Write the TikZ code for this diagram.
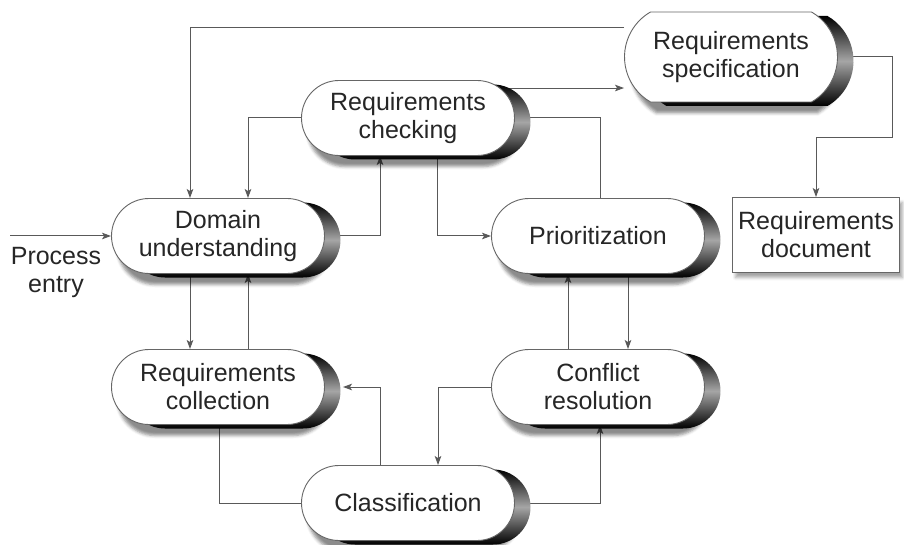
\documentclass[tikz,border=0pt]{standalone}
\usepackage{fontspec}
\setmainfont{Liberation Sans}
\usetikzlibrary{shapes.misc,arrows.meta,shadows.blur,backgrounds}
\begin{document}
\begin{tikzpicture}[x=1pt,y=-1pt,
  lbl/.style={font=\fontsize{25}{28}\selectfont, text=black!85, align=center},
  activity/.style={lbl, rounded rectangle, draw=black!60, line width=0.9pt,
    fill=white, minimum width=213pt, minimum height=75pt, inner sep=0pt,
    blur shadow={shadow xshift=6pt, shadow yshift=-11pt,
      shadow blur radius=3pt, shadow opacity=45},
    preaction={shade, top color=black, bottom color=black, middle color=black!35,
      transform canvas={xshift=16pt, yshift=-4pt}}},
  docbox/.style={lbl, rectangle, draw=black!60, line width=0.9pt, fill=white,
    minimum width=167pt, minimum height=75pt, inner sep=0pt,
    blur shadow={shadow xshift=3pt, shadow yshift=-5pt,
      shadow blur radius=3pt, shadow opacity=35}},
  flow/.style={draw=black!65, line width=1pt},
  arr/.style={flow, -{Stealth[length=9pt,width=6.5pt,inset=2pt]}}]
\useasboundingbox (0,0) rectangle (904,545);

% activities
\node[activity, minimum height=90pt, rounded rectangle arc length=120] (spec) at (731,57) {Requirements\\specification};
\node[activity] (chk)  at (408,118) {Requirements\\checking};
\node[activity] (dom)  at (218,236) {Domain\\understanding};
\node[activity] (pri)  at (598,236) {Prioritization};
\node[activity] (coll) at (218,387) {Requirements\\collection};
\node[activity] (conf) at (598,387) {Conflict\\resolution};
\node[activity] (cls)  at (408,503) {Classification};
\node[docbox]   (doc)  at (816,235) {Requirements\\document};

% entry point
\node[lbl] (entry) at (56,272) {Process\\entry};
\coordinate (start) at (10,236);

\begin{scope}[on background layer]
  \draw[arr] (start) -- (dom.west);
  % links around the top
  \draw[arr] ([yshift=29]spec.west) -| ([xshift=-28]dom.north);
  \draw[arr] (chk.west) -| ([xshift=30]dom.north);
  \draw[arr] (dom.east) -| ([xshift=-28]chk.south);
  \draw[arr] ([xshift=29]chk.south) |- (pri.west);
  \draw[flow] ([xshift=2]pri.north) |- (chk.east);
  \draw[arr] (chk.18) -- (chk.18 -| spec.west);
  \draw[arr] (spec.east) -- ++(55,0) -- ++(0,81) -| (doc.north);
  % links down the sides
  \draw[arr] ([xshift=-28]dom.south) -- ([xshift=-28]coll.north);
  \draw[arr] ([xshift=30]coll.north) -- ([xshift=30]dom.south);
  \draw[arr] ([xshift=30]pri.south) -- ([xshift=30]conf.north);
  \draw[arr] ([xshift=-30]conf.north) -- ([xshift=-30]pri.south);
  % links around the bottom
  \draw[arr] (conf.west) -| ([xshift=30]cls.north);
  \draw[arr] ([xshift=-28]cls.north) |- ([xshift=18]coll.east);
  \draw[flow] ([xshift=1]coll.south) |- (cls.west);
  \draw[arr] (cls.east) -| ([xshift=2]conf.south);
\end{scope}
\end{tikzpicture}
\end{document}
